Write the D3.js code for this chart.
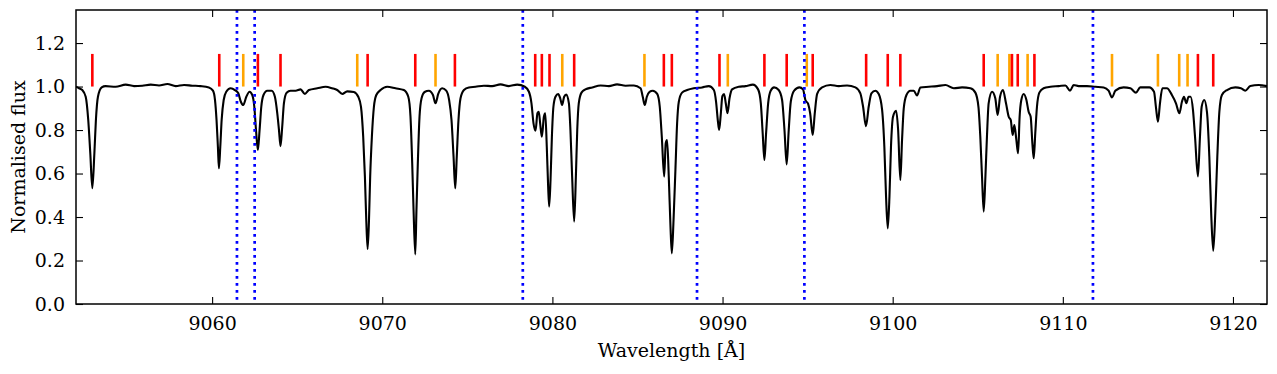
<!DOCTYPE html>
<html>
<head>
<meta charset="utf-8">
<script src="https://cdn.jsdelivr.net/npm/d3@7"></script>
<style>
  html, body { margin: 0; padding: 0; background: #fff; }
  svg { display: block; }
  text { font-family: "DejaVu Serif", serif; fill: #000; }
</style>
</head>
<body>
<svg id="chart" width="1277" height="374"></svg>
<script>
// ---------------- DATA ----------------
const xTicks = [9060, 9070, 9080, 9090, 9100, 9110, 9120];
const yTicks = [0.0, 0.2, 0.4, 0.6, 0.8, 1.0, 1.2];
const xDomain = [9052, 9122];
const yDomain = [0, 1.352];

// dotted blue reference wavelengths
const blueLines = [9061.46, 9062.50, 9078.26, 9088.50, 9094.81, 9111.77];
// red line identifications
const redLines = [9052.96, 9060.42, 9062.69, 9064.02, 9069.14, 9071.94, 9074.27,
  9078.99, 9079.38, 9079.83, 9081.28, 9086.55, 9087.02, 9089.82, 9092.46, 9093.77,
  9095.30, 9098.44, 9099.71, 9100.45, 9105.35, 9107.01, 9107.35, 9108.33, 9117.94, 9118.84];
// orange line identifications
const orangeLines = [9061.83, 9068.53, 9073.13, 9080.58, 9085.41, 9090.31, 9094.95,
  9106.17, 9106.86, 9107.93, 9112.89, 9115.59, 9116.84, 9117.33];
const markerRange = [1.0, 1.15];

// observed spectrum: [wavelength (Å), normalised flux]
const spectrum = [
  [9052.00,1.000],[9052.18,0.992],[9052.37,0.984],[9052.57,0.953],[9052.72,0.846],[9052.84,0.693],
  [9052.96,0.532],[9053.08,0.693],[9053.17,0.846],[9053.29,0.953],[9053.51,0.996],[9053.74,1.002],
  [9054.33,0.999],[9054.92,1.009],[9055.41,1.002],[9055.90,1.004],[9056.39,1.009],[9056.88,1.005],
  [9057.37,1.012],[9057.86,1.002],[9058.35,1.007],[9058.83,1.004],[9059.32,1.002],[9059.81,0.996],
  [9060.05,0.981],[9060.17,0.938],[9060.26,0.846],[9060.34,0.723],[9060.40,0.624],[9060.48,0.723],
  [9060.56,0.846],[9060.68,0.938],[9060.83,0.976],[9061.09,0.992],[9061.34,0.984],[9061.54,0.969],
  [9061.69,0.930],[9061.83,0.915],[9062.01,0.953],[9062.20,0.976],[9062.36,0.961],[9062.48,0.907],
  [9062.58,0.800],[9062.69,0.708],[9062.79,0.800],[9062.89,0.907],[9063.02,0.961],[9063.24,0.981],
  [9063.50,0.981],[9063.69,0.953],[9063.83,0.877],[9063.93,0.800],[9064.02,0.726],[9064.12,0.815],
  [9064.22,0.923],[9064.38,0.972],[9064.61,0.981],[9064.91,0.981],[9065.20,0.987],[9065.45,0.966],
  [9065.69,0.984],[9066.18,0.992],[9066.67,0.999],[9067.06,0.992],[9067.35,0.984],[9067.65,0.966],
  [9067.94,0.978],[9068.33,0.975],[9068.59,0.953],[9068.75,0.907],[9068.88,0.769],[9068.98,0.586],
  [9069.06,0.386],[9069.14,0.253],[9069.22,0.386],[9069.29,0.586],[9069.39,0.769],[9069.51,0.907],
  [9069.65,0.961],[9069.90,0.984],[9070.29,0.999],[9070.78,0.992],[9071.27,0.984],[9071.53,0.953],
  [9071.66,0.861],[9071.76,0.647],[9071.84,0.432],[9071.94,0.228],[9072.01,0.432],[9072.09,0.647],
  [9072.19,0.861],[9072.31,0.946],[9072.49,0.975],[9072.74,0.981],[9072.98,0.961],[9073.13,0.923],
  [9073.29,0.966],[9073.52,0.992],[9073.76,0.981],[9073.93,0.938],[9074.07,0.846],[9074.19,0.678],
  [9074.29,0.532],[9074.38,0.678],[9074.48,0.846],[9074.60,0.946],[9074.80,0.984],[9075.09,0.996],
  [9075.48,0.999],[9075.97,1.004],[9076.46,1.002],[9076.95,1.010],[9077.44,1.002],[9077.93,1.009],
  [9078.38,0.999],[9078.62,0.976],[9078.77,0.923],[9078.89,0.831],[9079.01,0.797],[9079.12,0.877],
  [9079.20,0.884],[9079.28,0.831],[9079.38,0.769],[9079.50,0.861],[9079.58,0.877],[9079.67,0.723],
  [9079.75,0.540],[9079.81,0.448],[9079.89,0.570],[9079.97,0.769],[9080.06,0.907],[9080.18,0.953],
  [9080.34,0.966],[9080.46,0.946],[9080.57,0.915],[9080.69,0.953],[9080.81,0.963],[9080.97,0.923],
  [9081.06,0.800],[9081.16,0.586],[9081.28,0.379],[9081.38,0.586],[9081.46,0.800],[9081.55,0.923],
  [9081.71,0.972],[9081.94,0.987],[9082.34,0.996],[9082.83,1.005],[9083.32,1.002],[9083.80,1.010],
  [9084.30,1.004],[9084.79,1.005],[9085.18,0.992],[9085.31,0.953],[9085.43,0.915],[9085.55,0.953],
  [9085.71,0.976],[9085.90,0.981],[9086.16,0.966],[9086.31,0.907],[9086.43,0.769],[9086.57,0.586],
  [9086.66,0.739],[9086.74,0.754],[9086.84,0.586],[9086.94,0.356],[9087.02,0.233],[9087.12,0.386],
  [9087.23,0.616],[9087.33,0.831],[9087.43,0.930],[9087.62,0.972],[9087.92,0.984],[9088.31,0.992],
  [9088.80,0.996],[9089.19,1.002],[9089.49,0.984],[9089.62,0.930],[9089.72,0.846],[9089.80,0.800],
  [9089.90,0.877],[9089.99,0.956],[9090.09,0.966],[9090.19,0.923],[9090.29,0.877],[9090.41,0.946],
  [9090.56,0.987],[9090.95,0.999],[9091.35,1.002],[9091.78,1.009],[9092.09,0.987],[9092.25,0.923],
  [9092.36,0.785],[9092.46,0.662],[9092.56,0.785],[9092.68,0.923],[9092.83,0.981],[9093.03,0.996],
  [9093.30,0.984],[9093.50,0.938],[9093.64,0.800],[9093.77,0.642],[9093.89,0.800],[9094.01,0.930],
  [9094.21,0.981],[9094.52,0.996],[9094.73,0.987],[9094.87,0.938],[9095.03,0.920],[9095.15,0.877],
  [9095.30,0.777],[9095.42,0.877],[9095.56,0.966],[9095.85,0.996],[9096.34,1.007],[9096.83,1.002],
  [9097.32,1.005],[9097.81,0.996],[9098.10,0.969],[9098.26,0.907],[9098.43,0.818],[9098.59,0.907],
  [9098.75,0.969],[9098.98,0.981],[9099.18,0.966],[9099.38,0.892],[9099.51,0.723],[9099.61,0.494],
  [9099.71,0.348],[9099.81,0.494],[9099.90,0.723],[9100.02,0.861],[9100.20,0.889],[9100.32,0.800],
  [9100.45,0.570],[9100.55,0.754],[9100.65,0.900],[9100.81,0.961],[9101.04,0.981],[9101.24,0.981],
  [9101.43,0.959],[9101.63,0.996],[9102.12,0.999],[9102.61,1.002],[9103.10,1.007],[9103.59,0.992],
  [9104.08,0.996],[9104.57,0.992],[9104.86,0.972],[9105.04,0.907],[9105.15,0.769],[9105.25,0.586],
  [9105.35,0.425],[9105.45,0.586],[9105.54,0.769],[9105.64,0.923],[9105.84,0.976],[9106.03,0.946],
  [9106.17,0.869],[9106.31,0.953],[9106.48,0.984],[9106.66,0.923],[9106.82,0.861],[9106.94,0.846],
  [9107.05,0.777],[9107.15,0.823],[9107.27,0.754],[9107.37,0.693],[9107.46,0.861],[9107.56,0.938],
  [9107.70,0.966],[9107.86,0.938],[9107.99,0.884],[9108.11,0.861],[9108.21,0.739],[9108.29,0.670],
  [9108.38,0.785],[9108.48,0.907],[9108.62,0.972],[9108.87,0.992],[9109.27,0.999],[9109.76,1.002],
  [9110.15,1.005],[9110.42,0.981],[9110.64,1.007],[9110.93,1.002],[9111.42,1.002],[9111.91,0.999],
  [9112.40,0.996],[9112.69,0.981],[9112.89,0.950],[9113.09,0.981],[9113.57,0.996],[9113.97,0.992],
  [9114.30,0.972],[9114.55,0.996],[9115.08,0.996],[9115.36,0.976],[9115.47,0.907],[9115.59,0.838],
  [9115.71,0.923],[9115.85,0.992],[9116.12,0.992],[9116.41,0.961],[9116.65,0.923],[9116.85,0.877],
  [9117.00,0.930],[9117.12,0.953],[9117.26,0.923],[9117.39,0.953],[9117.51,0.953],[9117.65,0.892],
  [9117.77,0.769],[9117.94,0.586],[9118.06,0.769],[9118.16,0.907],[9118.31,0.938],[9118.47,0.884],
  [9118.61,0.678],[9118.72,0.417],[9118.84,0.245],[9118.96,0.417],[9119.08,0.678],[9119.20,0.884],
  [9119.35,0.961],[9119.65,0.984],[9120.14,0.996],[9120.47,0.992],[9120.72,0.981],[9121.02,1.002],
  [9121.51,1.007],[9122.00,1.002]
];

// ---------------- LAYOUT ----------------
const W = 1277, H = 374;
const margin = {left: 76, right: 10, top: 10, bottom: 70};
const iw = W - margin.left - margin.right;
const ih = H - margin.top - margin.bottom;

const svg = d3.select("#chart");
const g = svg.append("g").attr("transform", `translate(${margin.left},${margin.top})`);

const x = d3.scaleLinear().domain(xDomain).range([0, iw]);
const y = d3.scaleLinear().domain(yDomain).range([ih, 0]);

svg.append("defs").append("clipPath").attr("id", "clip")
  .append("rect").attr("width", iw).attr("height", ih);

const plot = g.append("g").attr("clip-path", "url(#clip)");

// spectrum
const line = d3.line().x(d => x(d[0])).y(d => y(d[1])).curve(d3.curveMonotoneX);
plot.append("path").datum(spectrum)
  .attr("fill", "none").attr("stroke", "#000").attr("stroke-width", 2.1)
  .attr("stroke-linejoin", "round").attr("d", line);

// identification markers
plot.selectAll(".orange").data(orangeLines).enter().append("line")
  .attr("x1", d => x(d)).attr("x2", d => x(d))
  .attr("y1", y(markerRange[0])).attr("y2", y(markerRange[1]))
  .attr("stroke", "#ffa500").attr("stroke-width", 2.6);
plot.selectAll(".red").data(redLines).enter().append("line")
  .attr("x1", d => x(d)).attr("x2", d => x(d))
  .attr("y1", y(markerRange[0])).attr("y2", y(markerRange[1]))
  .attr("stroke", "#ff0000").attr("stroke-width", 2.6);

// blue dotted lines
plot.selectAll(".blue").data(blueLines).enter().append("line")
  .attr("x1", d => x(d)).attr("x2", d => x(d))
  .attr("y1", 0).attr("y2", ih)
  .attr("stroke", "#0000ff").attr("stroke-width", 2.7)
  .attr("stroke-dasharray", "2.7,4.3");

// axes (inward ticks on all sides)
const fs = 19;
function styleAxis(sel) {
  sel.select(".domain").remove();
  sel.selectAll(".tick line").attr("stroke", "#000").attr("stroke-width", 1.1);
  sel.selectAll(".tick text").attr("font-family", "DejaVu Serif").attr("font-size", fs).attr("fill", "#000");
}
const fmtY = d3.format(".1f");

g.append("g").attr("transform", `translate(0,${ih})`)
  .call(d3.axisBottom(x).tickValues(xTicks).tickFormat(d3.format("d")).tickSizeInner(-7).tickSizeOuter(0).tickPadding(13))
  .call(styleAxis);
g.append("g")
  .call(d3.axisTop(x).tickValues(xTicks).tickFormat("").tickSizeInner(-7).tickSizeOuter(0))
  .call(styleAxis);
g.append("g")
  .call(d3.axisLeft(y).tickValues(yTicks).tickFormat(fmtY).tickSizeInner(-7).tickSizeOuter(0).tickPadding(11))
  .call(styleAxis);
g.append("g").attr("transform", `translate(${iw},0)`)
  .call(d3.axisRight(y).tickValues(yTicks).tickFormat("").tickSizeInner(-7).tickSizeOuter(0))
  .call(styleAxis);

// frame
g.append("rect").attr("width", iw).attr("height", ih)
  .attr("fill", "none").attr("stroke", "#000").attr("stroke-width", 1.5);

// axis titles
svg.append("text").attr("x", margin.left + iw / 2).attr("y", 357)
  .attr("text-anchor", "middle").attr("font-size", fs).text("Wavelength [Å]");
svg.append("text")
  .attr("transform", `translate(25,${margin.top + ih / 2}) rotate(-90)`)
  .attr("text-anchor", "middle").attr("font-size", fs).text("Normalised flux");
</script>
</body>
</html>
